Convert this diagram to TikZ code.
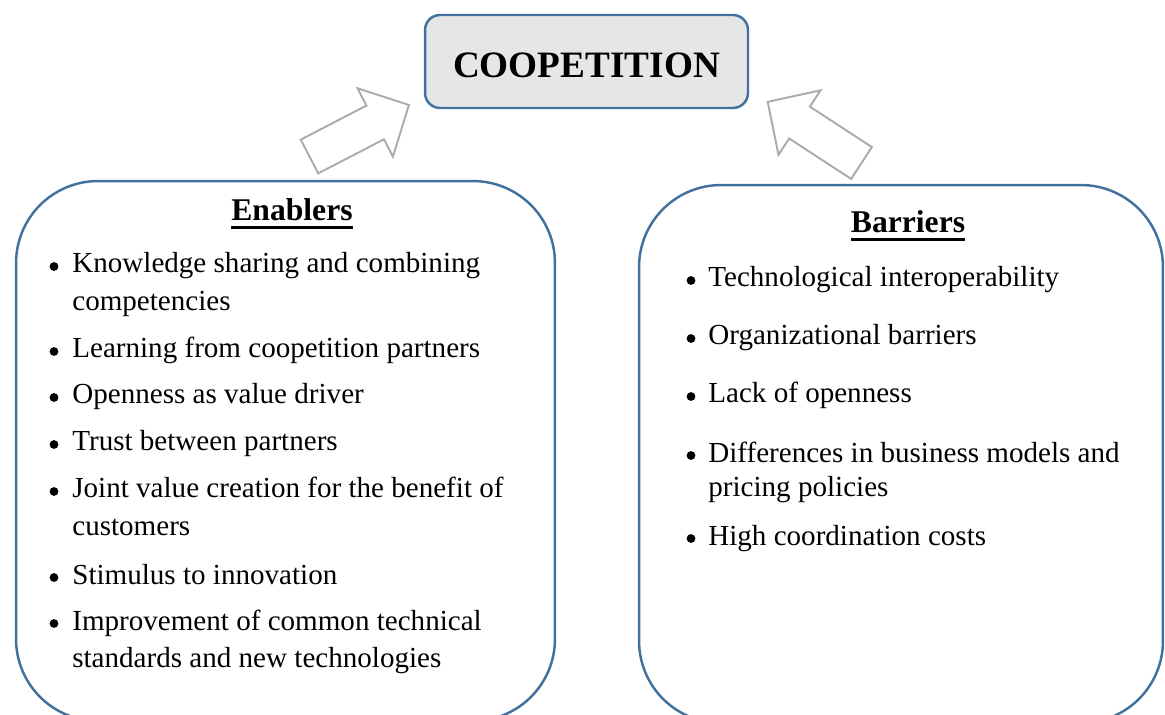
\documentclass[tikz,border=0pt]{standalone}
\usepackage{fontspec}
\setmainfont{Liberation Serif}
\usepackage{tikz}
\usetikzlibrary{positioning}
\definecolor{frame}{HTML}{41719C}
\definecolor{coopfill}{HTML}{E6E6E6}
\definecolor{arrgray}{HTML}{ABABAB}
\newsavebox\headbox
\newcommand{\ulhead}[1]{\sbox\headbox{#1}\rlap{\rule[-4.6pt]{\wd\headbox}{1.6pt}}\usebox\headbox}
\tikzset{
  panel/.style={draw=frame, line width=1.4pt, rounded corners=1.64cm, fill=white},
  topbox/.style={draw=frame, fill=coopfill, line width=1.4pt, rounded corners=0.3cm,
    font=\fontsize{21.2}{25}\selectfont\bfseries, minimum width=6.46cm,
    minimum height=1.86cm, text height=0.66cm, text depth=0pt},
  head/.style={anchor=base, inner sep=0pt, font=\fontsize{18}{22}\selectfont\bfseries},
  itemL/.style={anchor=base west, inner sep=0pt, text width=10.5cm, align=flush left,
    font=\fontsize{16.55}{21.1}\selectfont},
  itemR/.style={anchor=base west, inner sep=0pt, text width=9.5cm, align=flush left,
    font=\fontsize{16.55}{19.6}\selectfont},
  fatarrow/.style={draw=arrgray, fill=white, line width=1.1pt, line join=miter},
}

\begin{document}
\begin{tikzpicture}[x=0.02cm, y=-0.02cm]
  \useasboundingbox (0,0) rectangle (1165,715);
  \clip (0,0) rectangle (1165,715);

  % the two panels (cut off at the bottom edge)
  \node[panel, minimum width=10.78cm, minimum height=10.8cm] (enab) at (285.5,451) {};
  \node[panel, minimum width=10.48cm, minimum height=10.76cm] (barr) at (901,454) {};

  % top box
  \node[topbox] (coop) at (586.5,61.5) {COOPETITION};

  % block arrows towards the top box
  \coordinate (enTail) at (309.5,156.5);
  \coordinate (baTail) at (861.5,163);
  \begin{scope}[shift={(enTail)}, rotate=27.4]
    \draw[fatarrow] (0,-19) -- (74,-19) -- (74,-38.5) -- (112,0)
      -- (74,38.5) -- (74,19) -- (0,19) -- cycle;
  \end{scope}
  \begin{scope}[shift={(baTail)}, rotate=146.9]
    \draw[fatarrow] (0,-19) -- (74,-19) -- (74,-38.5) -- (112,0)
      -- (74,38.5) -- (74,19) -- (0,19) -- cycle;
  \end{scope}

  % enablers
  \node[head] (enabHead) at (292,221) {\ulhead{Enablers}};
  \node[itemL] (e1) at (72,273) {Knowledge sharing and combining\\competencies};
  \node[itemL] (e2) at (72,358) {Learning from coopetition partners};
  \node[itemL] (e3) at (72,404) {Openness as value driver};
  \node[itemL] (e4) at (72,451) {Trust between partners};
  \node[itemL] (e5) at (72,498) {Joint value creation for the benefit of\\customers};
  \node[itemL] (e6) at (72,584) {Stimulus to innovation};
  \node[itemL] (e7) at (72,630) {Improvement of common technical\\standards and new technologies};

  % barriers
  \node[head] (barrHead) at (908,233) {\ulhead{Barriers}};
  \node[itemR] (b1) at (708,287) {Technological interoperability};
  \node[itemR] (b2) at (708,345) {Organizational barriers};
  \node[itemR] (b3) at (708,403) {Lack of openness};
  \node[itemR] (b4) at (708,462) {Differences in business models and\\pricing policies};
  \node[itemR] (b5) at (708,545) {High coordination costs};

  % bullets
  \foreach \n in {e1,e2,e3,e4,e5,e6,e7}
    \fill ([shift={(-18,-6.5)}]\n.base west) circle[radius=4.4];
  \foreach \n in {b1,b2,b3,b4,b5}
    \fill ([shift={(-17,-6.5)}]\n.base west) circle[radius=4.4];
\end{tikzpicture}
\end{document}
